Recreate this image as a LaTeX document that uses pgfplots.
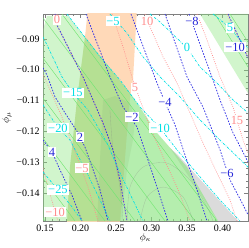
\documentclass[border=0pt]{standalone}
\usepackage{fontspec}
\setmainfont{Liberation Serif}
\usepackage{pgfplots}
\pgfplotsset{compat=1.18}
\definecolor{bl}{rgb}{0.2,0.2,0.9}
\definecolor{blt}{rgb}{0.15,0.15,0.85}
\definecolor{cy}{rgb}{0.0,0.88,0.9}
\definecolor{pk}{rgb}{1,0.55,0.55}
\definecolor{gr}{rgb}{0.55,0.9,0.5}
\definecolor{grl}{rgb}{0.45,0.9,0.45}
\definecolor{pe}{rgb}{1,0.85,0.72}
\tikzset{
  lbl/.style={fill=white, inner sep=0.8pt, font=\fontsize{12.5}{13}\selectfont},
  bls/.style={bl, line width=0.75pt, dash pattern=on 1.6pt off 1.4pt},
  cys/.style={cy, line width=0.7pt, dash pattern=on 2.4pt off 1.2pt on 0.6pt off 1.2pt},
  pks/.style={pk, line width=0.7pt, dash pattern=on 0.8pt off 1.4pt},
  grs/.style={grl, line width=0.45pt},
  gys/.style={gray, line width=0.35pt, opacity=0.35},
}
\begin{document}
\begin{tikzpicture}
\path[use as bounding box] (-43bp,-27bp) rectangle (206bp,221bp);
\begin{axis}[
  scale only axis, width=205bp, height=207bp,
  xmin=0.1472, xmax=0.4359, ymin=-0.1491, ymax=-0.0819,
  axis line style={gray}, tick style={gray},
  major tick length=4bp, minor tick length=2bp,
  minor tick num=4,
  xtick={0.15,0.20,0.25,0.30,0.35,0.40},
  xticklabels={0.15,0.20,0.25,0.30,0.35,0.40},
  ytick={-0.14,-0.13,-0.12,-0.11,-0.10,-0.09},
  yticklabels={−0.14,−0.13,−0.12,−0.11,−0.10,−0.09},
  ticklabel style={font=\fontsize{10}{10}\selectfont},
  xlabel={$\phi_\kappa$}, ylabel={$\phi_\mu$},
  xlabel style={at={(axis description cs:0.5,-0.08)},anchor=center},
  ylabel style={at={(axis description cs:-0.176,0.5)},anchor=center},
  clip=true,
]
% orange region
\addplot[draw=none, fill=pe] coordinates {(0.2106,-0.0800) (0.2796,-0.0800) (0.2739,-0.1033) (0.2697,-0.1092) (0.2655,-0.1205) (0.2556,-0.1500) (0.1810,-0.1500) (0.1852,-0.1316) (0.1951,-0.1098) (0.2063,-0.0894)} -- cycle;
% gray band
\addplot[draw=none, fill=gray!28] coordinates {(0.3261,-0.1254) (0.3937,-0.1491) (0.4218,-0.1491) (0.3373,-0.1277)} -- cycle;
% dark blob
\addplot[draw=none, fill=black, fill opacity=0.10] coordinates {(0.2317,-0.1098) (0.2486,-0.1085) (0.2697,-0.1108) (0.2768,-0.1163) (0.2739,-0.1228) (0.2655,-0.1325) (0.2570,-0.1500) (0.2232,-0.1500) (0.2275,-0.1293) (0.2303,-0.1163)} -- cycle;
% green region 1
\addplot[draw=none, fill=gr, fill opacity=0.4] coordinates {(0.1528,-0.0825) (0.1824,-0.0825) (0.2739,-0.1088) (0.3077,-0.1205) (0.3500,-0.1316) (0.3937,-0.1491) (0.1472,-0.1491) (0.1472,-0.0871)} -- cycle;
% green region 2
\addplot[draw=none, fill=gr, fill opacity=0.4] coordinates {(0.2063,-0.0894) (0.2739,-0.1088) (0.3077,-0.1205) (0.3500,-0.1316) (0.3937,-0.1491) (0.1810,-0.1491) (0.1852,-0.1316) (0.1951,-0.1098)} -- cycle;
% green triangle
\addplot[draw=none, fill=gr, fill opacity=0.4] coordinates {(0.3683,-0.0819) (0.4400,-0.0819) (0.4400,-0.1092)} -- cycle;
% green lines
\addplot[grs] coordinates {(-0.0683,-0.0819) (0.1500,-0.1491)};
\addplot[grs] coordinates {(-0.0261,-0.0819) (0.1923,-0.1491)};
\addplot[grs] coordinates {(0.0162,-0.0819) (0.2345,-0.1491)};
\addplot[grs] coordinates {(0.0584,-0.0819) (0.2768,-0.1491)};
\addplot[grs] coordinates {(0.1007,-0.0819) (0.3190,-0.1491)};
\addplot[grs] coordinates {(0.1430,-0.0819) (0.3613,-0.1491)};
\addplot[grs] coordinates {(0.1739,-0.0819) (0.3923,-0.1491)};
\addplot[grs] coordinates {(0.3894,-0.0819) (0.4359,-0.0991)};
\addplot[grs] coordinates {(0.4106,-0.0819) (0.4359,-0.0910)};
% gray contour curves
\addplot[gys, smooth] coordinates {(0.2655,-0.1491) (0.2697,-0.1381) (0.2880,-0.1316) (0.3218,-0.1303) (0.3542,-0.1358) (0.3782,-0.1445) (0.3866,-0.1491)};
\addplot[gys, smooth] coordinates {(0.2838,-0.1491) (0.2937,-0.1413) (0.3162,-0.1381) (0.3444,-0.1413) (0.3585,-0.1491)};
\addplot[gys, smooth] coordinates {(0.2415,-0.1131) (0.2458,-0.1260) (0.2556,-0.1381) (0.2599,-0.1491)};
% pink dotted
\addplot[pks] coordinates {(0.1472,-0.1319) (0.1542,-0.1381) (0.1683,-0.1491)};
\addplot[pks] coordinates {(0.1472,-0.1017) (0.1528,-0.1043) (0.1739,-0.1153) (0.1951,-0.1283) (0.2106,-0.1381) (0.2246,-0.1491)};
\addplot[pks] coordinates {(0.1641,-0.0819) (0.1669,-0.0855) (0.2035,-0.1023) (0.2317,-0.1173) (0.2458,-0.1260) (0.2556,-0.1358) (0.2655,-0.1491)};
\addplot[pks] coordinates {(0.2444,-0.0819) (0.2599,-0.0926) (0.2725,-0.1023) (0.2838,-0.1098) (0.2979,-0.1186) (0.3162,-0.1283) (0.3359,-0.1381) (0.3542,-0.1491)};
\addplot[pks] coordinates {(0.2909,-0.0819) (0.2979,-0.0861) (0.3162,-0.0958) (0.3359,-0.1043) (0.3542,-0.1140) (0.3725,-0.1238) (0.3923,-0.1335) (0.4106,-0.1423) (0.4204,-0.1491)};
\addplot[pks] coordinates {(0.3641,-0.0819) (0.3782,-0.0903) (0.3965,-0.1023) (0.4148,-0.1121) (0.4289,-0.1228) (0.4359,-0.1270)};
\addplot[pks] coordinates {(0.4063,-0.0819) (0.4359,-0.0958)};
% cyan dash-dot
\addplot[cys] coordinates {(0.1472,-0.1332) (0.1683,-0.1390) (0.1880,-0.1445) (0.2021,-0.1491)};
\addplot[cys] coordinates {(0.1472,-0.1114) (0.1683,-0.1189) (0.1852,-0.1228) (0.2092,-0.1335) (0.2275,-0.1423) (0.2415,-0.1491)};
\addplot[cys] coordinates {(0.1472,-0.0894) (0.1528,-0.0919) (0.1739,-0.1023) (0.1894,-0.1075) (0.2106,-0.1131) (0.2373,-0.1238) (0.2556,-0.1335) (0.2739,-0.1423) (0.2880,-0.1491)};
\addplot[cys] coordinates {(0.1810,-0.0819) (0.2275,-0.0958) (0.2556,-0.1033) (0.2838,-0.1121) (0.3120,-0.1189) (0.3359,-0.1260) (0.3683,-0.1348) (0.3965,-0.1423) (0.4246,-0.1491)};
\addplot[cys] coordinates {(0.2415,-0.0819) (0.2655,-0.0881) (0.2880,-0.0958) (0.3120,-0.1023) (0.3401,-0.1088) (0.3683,-0.1163) (0.4007,-0.1238) (0.4359,-0.1316)};
\addplot[cys] coordinates {(0.2979,-0.0819) (0.3120,-0.0845) (0.3500,-0.0929) (0.3683,-0.0991) (0.3923,-0.1043) (0.4148,-0.1098) (0.4359,-0.1140)};
\addplot[cys] coordinates {(0.3866,-0.0819) (0.4106,-0.0864) (0.4246,-0.0903) (0.4359,-0.0929)};
% blue dashed
\addplot[bls] coordinates {(0.1472,-0.1228) (0.1599,-0.1267) (0.1711,-0.1325) (0.1880,-0.1407) (0.2021,-0.1491)};
\addplot[bls] coordinates {(0.1472,-0.0994) (0.1528,-0.1017) (0.1641,-0.1088) (0.1782,-0.1140) (0.1965,-0.1205) (0.2063,-0.1251) (0.2204,-0.1342) (0.2275,-0.1390) (0.2387,-0.1491)};
\addplot[bls] coordinates {(0.1641,-0.0819) (0.1669,-0.0855) (0.2035,-0.1023) (0.2317,-0.1173) (0.2458,-0.1260) (0.2556,-0.1358) (0.2655,-0.1491)};
\addplot[bls] coordinates {(0.2077,-0.0819) (0.2415,-0.1023) (0.2599,-0.1121) (0.2796,-0.1186) (0.2937,-0.1283) (0.3077,-0.1381) (0.3232,-0.1491)};
\addplot[bls] coordinates {(0.2711,-0.0819) (0.2937,-0.0958) (0.3077,-0.1043) (0.3190,-0.1105) (0.3331,-0.1179) (0.3472,-0.1277) (0.3641,-0.1390) (0.3782,-0.1491)};
\addplot[bls] coordinates {(0.3190,-0.0819) (0.3500,-0.1023) (0.3725,-0.1121) (0.3965,-0.1260) (0.4106,-0.1358) (0.4275,-0.1432) (0.4359,-0.1471)};
\addplot[bls] coordinates {(0.3528,-0.0819) (0.3866,-0.1033) (0.3965,-0.1098) (0.4148,-0.1205) (0.4359,-0.1299)};
\addplot[bls] coordinates {(0.4078,-0.0819) (0.4246,-0.0903) (0.4359,-0.0962)};
% labels
\node[lbl, text=pk] at (axis cs:0.1669,-0.0838) {0};
\node[lbl, text=cy] at (axis cs:0.2458,-0.0842) {−5};
\node[lbl, text=pk] at (axis cs:0.2937,-0.0842) {10};
\node[lbl, text=blt] at (axis cs:0.3570,-0.0842) {−8};
\node[lbl, text=cy] at (axis cs:0.4106,-0.0864) {5};
\node[lbl, text=blt] at (axis cs:0.4176,-0.0926) {−10};
\node[lbl, text=cy] at (axis cs:0.3500,-0.0929) {0};
\node[lbl, text=pk] at (axis cs:0.2768,-0.1059) {5};
\node[lbl, text=cy] at (axis cs:0.1894,-0.1075) {−15};
\node[lbl, text=blt] at (axis cs:0.3190,-0.1105) {−4};
\node[lbl, text=blt] at (axis cs:0.2725,-0.1153) {−2};
\node[lbl, text=pk] at (axis cs:0.4204,-0.1163) {15};
\node[lbl, text=cy] at (axis cs:0.3120,-0.1189) {−10};
\node[lbl, text=cy] at (axis cs:0.1683,-0.1189) {−20};
\node[lbl, text=blt] at (axis cs:0.1993,-0.1218) {2};
\node[lbl, text=blt] at (axis cs:0.1599,-0.1267) {4};
\node[lbl, text=pk] at (axis cs:0.2021,-0.1319) {−5};
\node[lbl, text=blt] at (axis cs:0.4063,-0.1335) {−6};
\node[lbl, text=cy] at (axis cs:0.1683,-0.1390) {−25};
\node[lbl, text=pk] at (axis cs:0.1641,-0.1462) {−10};
\end{axis}
\end{tikzpicture}
\end{document}
